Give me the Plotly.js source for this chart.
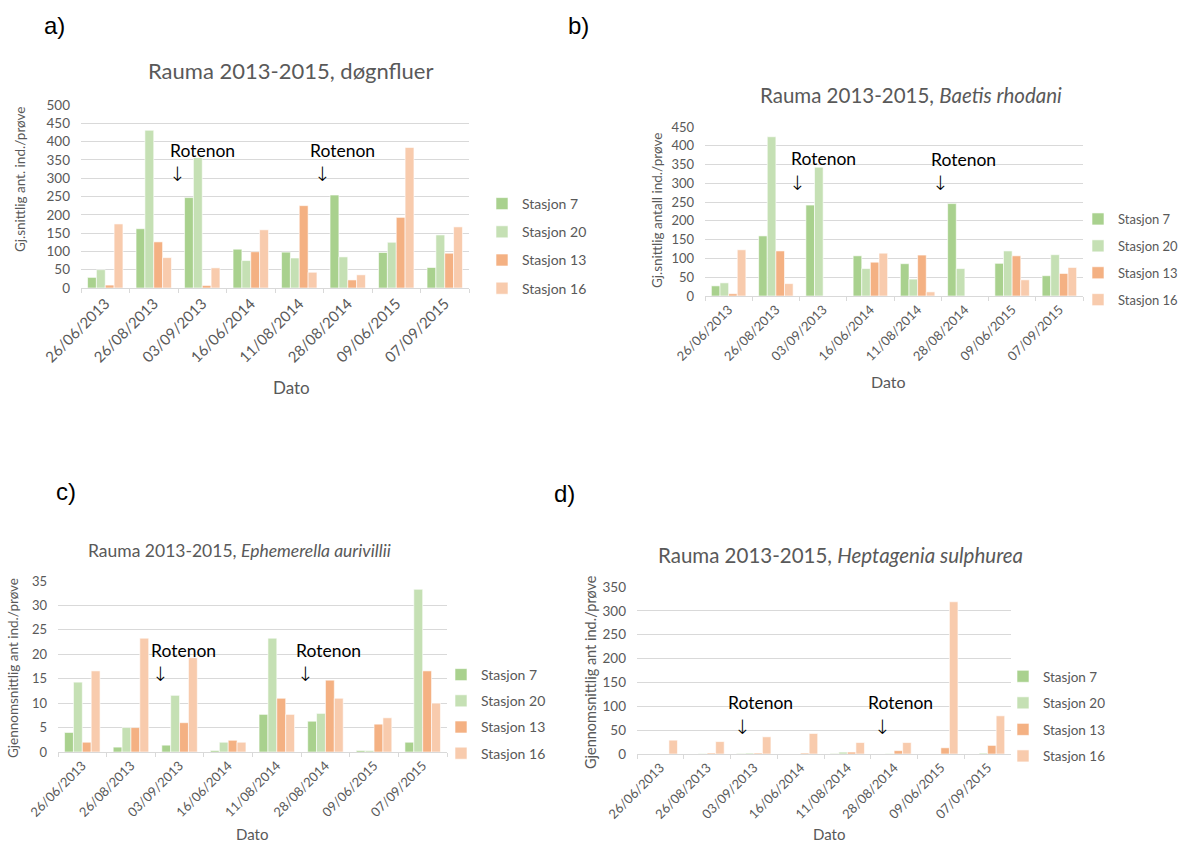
<!DOCTYPE html>
<html><head><meta charset="utf-8">
<script src="https://cdn.plot.ly/plotly-3.0.1.min.js"></script>
<style>html,body{margin:0;padding:0;background:#fff;}#chart{width:1185px;height:842px;}</style>
</head><body><div id="chart"></div>
<script>
const dates = ['26/06/2013','26/08/2013','03/09/2013','16/06/2014','11/08/2014','28/08/2014','09/06/2015','07/09/2015'];
const stations = ['Stasjon 7','Stasjon 20','Stasjon 13','Stasjon 16'];

const a_s7  = [29,162,247,106,98,254,97,56];
const a_s20 = [50,431,356,75,82,85,125,145];
const a_s13 = [8,126,7,99,225,22,193,95];
const a_s16 = [175,83,55,159,43,36,384,167];

const b_s7  = [27,160,242,107,86,246,87,54];
const b_s20 = [35,424,343,73,45,73,120,110];
const b_s13 = [6,120,0,90,109,0,107,60];
const b_s16 = [123,33,0,114,11,0,43,76];

const c_s7  = [4.0,1.0,1.4,0.3,7.7,6.3,0.3,2.0];
const c_s20 = [14.3,5.0,11.6,2.0,23.3,7.9,0.3,33.3];
const c_s13 = [2.0,5.0,6.0,2.4,11.0,14.7,5.7,16.6];
const c_s16 = [16.6,23.3,19.3,2.0,7.7,11.0,7.0,10.0];

const d_s7  = [0,0,1,0,1,0,0,0];
const d_s20 = [0,1,2,0,4,1,0,2];
const d_s13 = [0,2,2,2,4,7,13,18];
const d_s16 = [29,26,36,43,24,24,319,80];

const colors = ['#a9d18e','#c5e0b4','#f4b183','#f8cbad'];
const W = 1185, H = 842;
const px = v => v / W;
const py = v => 1 - v / H;
const FONT = 'Lato, "Open Sans", sans-serif';
const GREY = '#595959';

const panels = [
  {series:[a_s7,a_s20,a_s13,a_s16], ax:'', x0:81, x1:469, y0:288, y1:105, range:[0,500], dtick:50, legend:'legend', tf:13.5, xf:15},
  {series:[b_s7,b_s20,b_s13,b_s16], ax:'2', x0:705, x1:1083, y0:296, y1:127, range:[0,450], dtick:50, legend:'legend2', tf:13, xf:13},
  {series:[c_s7,c_s20,c_s13,c_s16], ax:'3', x0:58, x1:447, y0:752, y1:581, range:[0,35], dtick:5, legend:'legend3', tf:13, xf:13},
  {series:[d_s7,d_s20,d_s13,d_s16], ax:'4', x0:637, x1:1011, y0:754, y1:587, range:[0,350], dtick:50, legend:'legend4', tf:13.5, xf:13}
];

const traces = [];
const layout = {
  width: W, height: H, margin:{l:0,r:0,t:0,b:0, autoexpand:false},
  paper_bgcolor:'#fff', plot_bgcolor:'#fff',
  barmode:'group', bargap:0.27, bargroupgap:0,
  font:{family:FONT, color:GREY},
  annotations:[], showlegend:true
};

panels.forEach((p, pi) => {
  p.series.forEach((vals, si) => {
    traces.push({
      type:'bar', x:dates, y:vals, name:stations[si],
      xaxis:'x'+p.ax, yaxis:'y'+p.ax,
      marker:{color:colors[si], line:{color:'#ffffff', width:0.6}},
      legend:p.legend, legendgroup:'g'+pi+'_'+si,
      hoverinfo:'x+y+name'
    });
  });
  layout['xaxis'+p.ax] = {
    domain:[px(p.x0), px(p.x1)], anchor:'y'+p.ax, type:'category',
    tickangle:-45, tickfont:{size:p.xf, color:GREY, family:FONT},
    showgrid:false, showline:true, linecolor:'#d9d9d9', linewidth:1,
    ticks:'outside', tickson:'boundaries', ticklen:4, tickcolor:'#d9d9d9',
    fixedrange:true
  };
  layout['yaxis'+p.ax] = {
    domain:[py(p.y0), py(p.y1)], anchor:'x'+p.ax, range:p.range, dtick:p.dtick,
    tickfont:{size:p.tf, color:GREY, family:FONT},
    showgrid:true, gridcolor:'#d9d9d9', gridwidth:1, zeroline:false,
    ticks:'', ticklabelstandoff:10, showline:false, fixedrange:true
  };
});

// [x, y, fontsize, gap]
const legendPos = [[482,188,14,7],[1078,204,13,7],[441,659,14,5],[1003,661,13.5,6]];
['legend','legend2','legend3','legend4'].forEach((lg, i) => {
  layout[lg] = {
    x:px(legendPos[i][0]), y:py(legendPos[i][1]), xanchor:'left', yanchor:'top',
    font:{size:legendPos[i][2], color:GREY, family:FONT}, bgcolor:'rgba(0,0,0,0)',
    traceorder:'grouped', tracegroupgap:legendPos[i][3], itemwidth:30, itemclick:false, itemdoubleclick:false
  };
});

function ann(text, x, y, size, opts) {
  layout.annotations.push(Object.assign({
    text:text, x:px(x), y:py(y), xref:'paper', yref:'paper', showarrow:false,
    xanchor:'center', yanchor:'middle', font:{size:size, color:GREY, family:FONT}
  }, opts || {}));
}

const LETTER = {size:24, color:'#000', family:'"Liberation Sans", Arial, sans-serif'};
ann('a)', 54, 26, 24, {font:LETTER});
ann('b)', 578, 26, 24, {font:LETTER});
ann('c)', 66, 491, 24, {font:LETTER});
ann('d)', 564, 494, 24, {font:LETTER});

// titles
ann('Rauma 2013-2015, døgnfluer', 290, 70, 22);
ann('Rauma 2013-2015, <i>Baetis rhodani</i>', 911, 95, 20.5);
ann('Rauma 2013-2015, <i>Ephemerella aurivillii</i>', 239, 550, 17.5);
ann('Rauma 2013-2015, <i>Heptagenia sulphurea</i>', 840, 555, 20.5);

// axis titles
ann('Gj.snittlig ant. ind./prøve', 20, 180, 13.5, {textangle:-90});
ann('Gj.snittlig antall ind./prøve', 657, 211, 13.5, {textangle:-90});
ann('Gjennomsnittlig ant ind./prøve', 13, 668, 13.5, {textangle:-90});
ann('Gjennomsnittlig ant ind./prøve', 590, 672, 14.5, {textangle:-90});
ann('Dato', 291, 387, 17);
ann('Dato', 888, 381, 16);
ann('Dato', 252, 834, 15);
ann('Dato', 829, 834, 15);

// Rotenon markers: [text x, text y, arrow x, arrow y]
const rot = [[202,150,178,174],[342,150,322,174],[823,159,797,183],[963,160,940,183],
             [183,650,160,674],[328,650,305,674],[760,702,742,727],[900,702,882,727]];
rot.forEach(r => {
  ann('Rotenon', r[0], r[1], 17.5, {font:{size:17.5, color:'#000', family:FONT}});
  ann('↓', r[2], r[3], 20, {font:{size:20, color:'#000', family:'"DejaVu Sans", sans-serif', weight:200}});
});

Plotly.newPlot('chart', traces, layout, {displayModeBar:false, staticPlot:true});
</script></body></html>
